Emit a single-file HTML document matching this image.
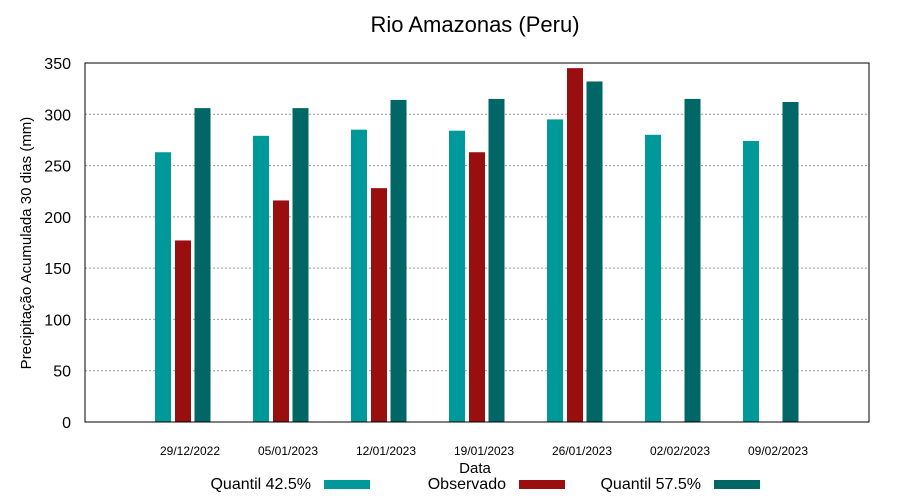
<!DOCTYPE html>
<html><head><meta charset="utf-8"><style>
body{margin:0;background:#fff;}
svg{display:block;font-family:"Liberation Sans",sans-serif;}
</style></head><body>
<svg id="c" width="900" height="500"></svg>
<script>
const categories=["29/12/2022","05/01/2023","12/01/2023","19/01/2023","26/01/2023","02/02/2023","09/02/2023"];
const q425=[263,279,285,284,295,280,274];
const observed=[177,216,228,263,345,null,null];
const q575=[306,306,314,315,332,315,312];
const yTicks=[0,50,100,150,200,250,300,350];
const NS="http://www.w3.org/2000/svg";
const svg=document.getElementById('c');
const L=85,R=869,T=63,B=422;
const x=i=>L+(R-L)/8*(i+1);
const y=v=>B-(B-T)*v/350;
function el(t,a,p){const e=document.createElementNS(NS,t);for(const k in a)e.setAttribute(k,a[k]);(p||svg).appendChild(e);return e;}
yTicks.forEach(v=>{
  if(v>0&&v<350){const g=el('line',{x1:L,x2:R,y1:y(v),y2:y(v),stroke:'#999','stroke-dasharray':'2,2','stroke-width':1});
  
  }
  const t=el('text',{x:71,y:y(v)+6,'text-anchor':'end','font-size':16});t.textContent=v;
  
  
});
const series=[[q425,'#009999',-28,'q425'],[observed,'#990f0f',-8,'observed'],[q575,'#006666',11.5,'q575']];
series.forEach(([arr,col,off,nm])=>{
  arr.forEach((v,i)=>{ if(v==null)return;
    const r=el('rect',{x:x(i)+off,y:y(v),width:16,height:B-y(v),fill:col});
    
    
  });
});
categories.forEach((c,i)=>{
  const t=el('text',{x:x(i)+7,y:455,'text-anchor':'middle','font-size':12});t.textContent=c;
  
  
});
const f=el('rect',{x:L,y:T,width:R-L,height:B-T,fill:'none',stroke:'#000','stroke-width':1});


</script>
<svg style="position:absolute;left:0;top:0" width="900" height="500" font-family="Liberation Sans, sans-serif">
<text x="475" y="32" text-anchor="middle" font-size="22">Rio Amazonas (Peru)</text>
<text x="475" y="473" text-anchor="middle" font-size="15">Data</text>
<text transform="translate(31,243) rotate(-90)" text-anchor="middle" font-size="15">Precipitação Acumulada 30 dias (mm)</text>
<g><text x="311" y="489" text-anchor="end" font-size="16">Quantil 42.5%</text><rect x="324" y="480" width="46" height="9" fill="#009999"/></g>
<g><text x="506" y="489" text-anchor="end" font-size="16">Observado</text><rect x="519" y="480" width="46" height="9" fill="#990f0f"/></g>
<g><text x="701" y="489" text-anchor="end" font-size="16">Quantil 57.5%</text><rect x="714" y="480" width="46" height="9" fill="#006666"/></g>
</svg>
</body></html>
